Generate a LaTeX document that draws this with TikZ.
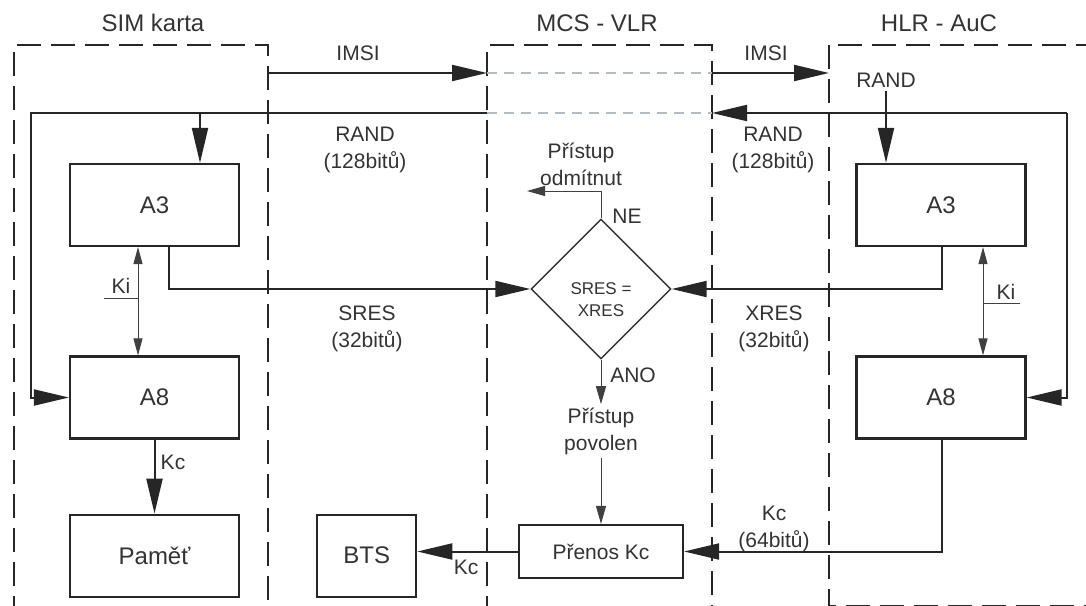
\documentclass[tikz,border=0pt]{standalone}
\usepackage{fontspec}
\setmainfont{Liberation Sans}
\usetikzlibrary{arrows.meta, positioning, calc, shapes.geometric}
\definecolor{ghostgray}{RGB}{176,188,200}

\begin{document}
\begin{tikzpicture}[
    x=0.5pt, y=-0.5pt,
    blk/.style={draw=black!85, line width=1.1pt, minimum width=84.5pt, minimum height=41pt, font=\fontsize{12}{14}\selectfont, text=black!80},
    zone/.style={draw=black!85, line width=1.1pt, dash pattern=on 12pt off 5pt},
    ghost/.style={draw=ghostgray, line width=1pt, dash pattern=on 5pt off 3.5pt},
    link/.style={draw=black!85, line width=1pt, -{Triangle[length=17.5pt, width=8pt]}},
    fine/.style={draw=black!75, line width=0.5pt},
    tip/.style={fine, -{Triangle[length=9pt, width=5pt]}},
    kiarrow/.style={fine, {Triangle[length=8.5pt, width=4.5pt]}-{Triangle[length=8.5pt, width=4.5pt]}},
    lbl/.style={font=\fontsize{10.5}{13.5}\selectfont, text=black!80, align=center, inner sep=1.5pt},
    hdr/.style={font=\fontsize{12}{14}\selectfont, text=black!80}
]
    \useasboundingbox (0,0) rectangle (1086,605);

    % zones
    \begin{scope}
        \clip (0,0) rectangle (1086,605);
        \draw[zone] (14,620) -- (14,45) -- (268,45) -- (268,620);
        \draw[zone] (487,620) -- (487,45) -- (712,45) -- (712,620);
        \draw[zone] (829,45) rectangle (1100,606.5);
    \end{scope}
    \node[hdr] (tsim) at (153,23) {SIM karta};
    \node[hdr] (tmcs) at (597,23) {MCS - VLR};
    \node[hdr] (thlr) at (939,23) {HLR - AuC};

    % SIM side
    \node[blk] (sa3) at (154.5,205) {A3};
    \node[blk] (sa8) at (154.5,397.5) {A8};
    \node[blk, below=37pt of sa8] (mem) {Paměť};
    \node[blk, minimum width=49.5pt, right=38pt of mem] (bts) {BTS};

    % MCS side
    \node[diamond, draw=black!80, line width=0.7pt, minimum width=70pt, minimum height=70pt, inner sep=0pt,
          label={[font=\fontsize{8.5}{11}\selectfont, text=black!80, align=center, yshift=-5.5pt]center:SRES =\\XRES}] (dec) at (601,289) {};
    \node[blk, minimum width=82pt, minimum height=26.5pt, font=\fontsize{10.5}{13}\selectfont] (prenos) at (601,551.5) {Přenos Kc};
    \node[lbl] (odmt) at (581,164) {Přístup\\odmítnut};
    \node[lbl] (pov) at (601,431) {Přístup\\povolen};
    \node[lbl] (ne) at (627,216) {NE};
    \node[lbl] (ano) at (633,375) {ANO};

    % HLR side
    \node[blk] (ha3) at (941,205) {A3};
    \node[blk] (ha8) at (941,397.5) {A8};
    \node[lbl] (hrand) at (886,80) {RAND};

    % transfer labels
    \node[lbl] (imsi1) at (358,53) {IMSI};
    \node[lbl] (imsi2) at (766,53) {IMSI};
    \node[lbl] (rand1) at (365,150) {RAND\\(128bitů)};
    \node[lbl] (rand2) at (773,150) {RAND\\(128bitů)};
    \node[lbl] (sres) at (367,329) {SRES\\(32bitů)};
    \node[lbl] (xres) at (774,329) {XRES\\(32bitů)};
    \node[lbl] (kc64) at (774,529) {Kc\\(64bitů)};
    \node[lbl] (kcbts) at (466,567) {Kc};
    \node[lbl] (kcmem) at (173,462) {Kc};
    \node[lbl] (kis) at (121,286) {Ki};
    \node[lbl] (kih) at (1006,292) {Ki};

    \coordinate (simE) at (268,73);
    \coordinate (mcsW) at (487,73);
    \coordinate (mcsE) at (712,73);
    \coordinate (hlrW) at (829,73);
    \coordinate (randW) at (487,113);
    \coordinate (randE) at (712,113);
    \coordinate (scor) at (31,113);
    \coordinate (sdrop) at (200,113);
    \coordinate (hcor) at (1067,113);
    \coordinate (odm) at (527,191);
    \coordinate (kisA) at (104,298);
    \coordinate (kisB) at (138,298);
    \coordinate (kihA) at (983,303);
    \coordinate (kihB) at (1020,303);

    % IMSI and RAND
    \draw[link] (simE) -- (mcsW);
    \draw[ghost] (mcsW) -- (mcsE);
    \draw[link] (mcsE) -- (hlrW);
    \draw[ghost] (randW) -- (randE);
    \draw[link] (hcor) -- (randE);
    \draw[link] (hcor) |- (ha8.east);
    \draw[link] (randW) -- (scor) |- (sa8.west);
    \draw[link] (sdrop) -- (sdrop |- sa3.north);
    \draw[link] (hrand.south) -- (hrand.south |- ha3.north);

    % Ki
    \draw[kiarrow] ($(sa3.south)+(-16.5,0)$) -- ($(sa8.north)+(-16.5,0)$);
    \draw[fine] (kisA) -- (kisB);
    \draw[kiarrow] (kihA |- ha3.south) -- (kihA |- ha8.north);
    \draw[fine] (kihA) -- (kihB);

    % SRES / XRES
    \draw[link] ($(sa3.south)+(14.5,0)$) |- (dec.west);
    \draw[link] ($(ha3.south)+(1,0)$) |- (dec.east);
    \draw[tip] (dec.north) |- (odm);
    \draw[tip] (dec.south) -- (pov);
    \draw[tip] (pov) -- (prenos);

    % Kc
    \draw[link] (sa8) -- (mem);
    \draw[link] ($(ha8.south)+(1,0)$) |- (prenos.east);
    \draw[link] (prenos.west) -- (prenos.west -| bts.east);
\end{tikzpicture}
\end{document}
